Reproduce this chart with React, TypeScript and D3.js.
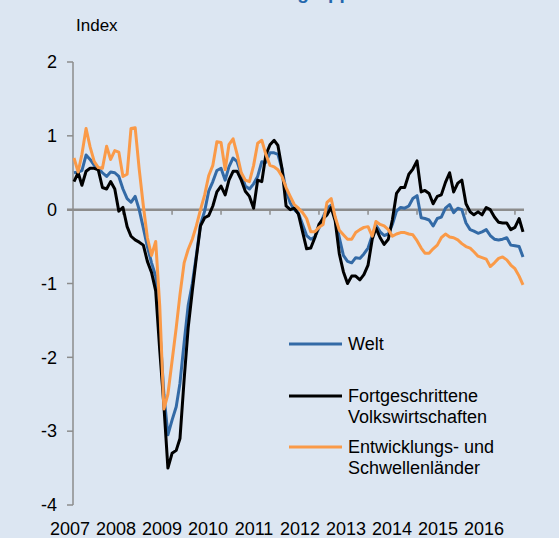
import React from 'react';
import * as d3 from 'd3';

// monthly values, Jan 2007 - Mar 2016
const welt = [
  0.5, 0.51, 0.53, 0.74, 0.68, 0.6, 0.56, 0.5, 0.45, 0.51, 0.5, 0.45,
  0.28, 0.15, 0.1, 0.18, 0.0, -0.25, -0.5, -0.72, -0.9, -1.6, -2.5, -3.05,
  -2.85, -2.67, -2.35, -1.8, -1.3, -1.0, -0.62, -0.2, -0.02, 0.25, 0.38, 0.53,
  0.56, 0.4, 0.58, 0.7, 0.65, 0.48, 0.32, 0.28, 0.35, 0.45, 0.65, 0.64,
  0.77, 0.77, 0.75, 0.55, 0.26, 0.09, 0.0, -0.05, -0.2, -0.35, -0.4, -0.37,
  -0.25, -0.1, 0.02, 0.06, -0.12, -0.38, -0.62, -0.7, -0.72, -0.65, -0.66, -0.6,
  -0.52, -0.35, -0.21, -0.3, -0.35, -0.33, -0.2, -0.02, 0.03, 0.02, 0.05, 0.15,
  0.19, -0.11, -0.12, -0.14, -0.22, -0.12, -0.1, 0.02, 0.07, -0.04, 0.02, 0.0,
  -0.18, -0.27, -0.29, -0.32, -0.3, -0.27, -0.35, -0.4, -0.41, -0.4, -0.38, -0.48,
  -0.49, -0.5, -0.64,
];

const fortgeschrittene = [
  0.38, 0.5, 0.33, 0.52, 0.56, 0.56, 0.54, 0.3, 0.28, 0.38, 0.28, -0.02,
  0.03, -0.23, -0.36, -0.41, -0.44, -0.48, -0.7, -0.85, -1.1, -1.9, -2.65, -3.5,
  -3.3, -3.26, -3.1, -2.3, -1.6, -1.1, -0.65, -0.22, -0.11, -0.08, 0.05, 0.24,
  0.32, 0.2, 0.4, 0.52, 0.52, 0.4, 0.25, 0.18, 0.02, 0.4, 0.38, 0.74,
  0.88, 0.94, 0.87, 0.55, 0.05, 0.0, 0.02, -0.06, -0.3, -0.53, -0.52, -0.38,
  -0.2, -0.12, -0.07, 0.03, -0.15, -0.6, -0.84, -1.0, -0.9, -0.9, -0.95, -0.88,
  -0.75, -0.4, -0.25, -0.38, -0.47, -0.4, -0.14, 0.22, 0.3, 0.3, 0.48, 0.55,
  0.66, 0.24, 0.26, 0.22, 0.08, 0.18, 0.2, 0.37, 0.5, 0.24, 0.36, 0.4,
  0.08, -0.03, -0.07, -0.03, -0.07, 0.03, 0.0, -0.1, -0.17, -0.18, -0.18, -0.27,
  -0.24, -0.12, -0.3,
];

const entwicklung = [
  0.7, 0.51, 0.75, 1.1, 0.85, 0.65, 0.57, 0.56, 0.86, 0.68, 0.8, 0.78,
  0.45, 0.48, 1.1, 1.11, 0.55, 0.05, -0.38, -0.62, -0.43, -1.3, -2.7, -2.5,
  -2.05, -1.6, -1.15, -0.72, -0.54, -0.4, -0.22, 0.0, 0.2, 0.46, 0.6, 0.92,
  0.91, 0.54, 0.88, 0.96, 0.75, 0.5, 0.4, 0.38, 0.6, 0.9, 0.94, 0.75,
  0.6, 0.58, 0.54, 0.45, 0.3, 0.18, 0.07, 0.02, -0.04, -0.12, -0.3, -0.3,
  -0.24, -0.2, 0.1, 0.15, -0.1, -0.28, -0.34, -0.4, -0.4, -0.31, -0.27, -0.24,
  -0.23, -0.36, -0.16, -0.2, -0.22, -0.27, -0.36, -0.33, -0.31, -0.31, -0.33, -0.34,
  -0.42, -0.52, -0.59, -0.59, -0.53, -0.48, -0.38, -0.33, -0.37, -0.38, -0.41, -0.46,
  -0.5, -0.52, -0.57, -0.63, -0.65, -0.67, -0.77, -0.72, -0.66, -0.64, -0.68, -0.75,
  -0.8, -0.9, -1.02,
];

const years = ['2007', '2008', '2009', '2010', '2011', '2012', '2013', '2014', '2015', '2016'];
const yTicks = [2, 1, 0, -1, -2, -3, -4];

const W = 559;
const H = 538;
const font = 'Arial, "Liberation Sans", sans-serif';

export default function App() {
  const months = welt.map((_, i) => new Date(2007, i, 1));
  const x = d3.scaleTime()
    .domain([months[0], months[months.length - 1]])
    .range([74, 523]);
  const y = d3.scaleLinear().domain([-4, 2]).range([505, 62]);
  const labelX = d3.scalePoint().domain(years).range([70, 484]);
  const yearTicks = d3.timeYear.range(new Date(2008, 0, 1), new Date(2016, 1, 1));

  const line = d3.line<number>()
    .x((_, i) => x(months[i]))
    .y(d => y(d));

  const series = [
    { name: 'Welt', values: welt, color: '#336aa6' },
    { name: 'Fortgeschrittene', values: fortgeschrittene, color: '#000000' },
    { name: 'Entwicklung', values: entwicklung, color: '#fa9a48' },
  ];

  const axisColor = '#8c8c8c';

  return (
    <svg width={W} height={H} style={{ position: 'absolute', left: 0, top: 0 }} fontFamily={font}>
      <rect width={W} height={H} fill="#dce6f2" />
      <text x={234} y={-1} fontSize={19} fontWeight="bold" fill="#2366ad">Ländergruppen</text>
      <text x={76} y={31} fontSize={17} fill="#000">Index</text>

      {/* y axis */}
      <line x1={73} x2={73} y1={y(2)} y2={y(-4)} stroke={axisColor} strokeWidth={1.5} />
      {yTicks.map(t => (
        <g key={t}>
          <line x1={67} x2={73} y1={y(t)} y2={y(t)} stroke={axisColor} strokeWidth={1.5} />
          <text x={57} y={y(t)} dy="0.35em" textAnchor="end" fontSize={18} fill="#000">{t}</text>
        </g>
      ))}

      {/* zero line with year ticks */}
      <line x1={67} x2={524} y1={y(0)} y2={y(0)} stroke={axisColor} strokeWidth={2.5} />
      {yearTicks.map(d => (
        <line key={d.getFullYear()} x1={x(d)} x2={x(d)} y1={y(0)} y2={y(0) + 5} stroke={axisColor} strokeWidth={1.5} />
      ))}

      {series.map(s => (
        <path key={s.name} d={line(s.values) ?? ''} fill="none" stroke={s.color}
          strokeWidth={3} strokeLinejoin="round" />
      ))}

      {years.map(yr => (
        <text key={yr} x={labelX(yr)} y={535} textAnchor="middle" fontSize={18} fill="#000">{yr}</text>
      ))}

      {/* legend */}
      <line x1={289} x2={342} y1={344} y2={344} stroke="#336aa6" strokeWidth={3} />
      <text x={348} y={350} fontSize={18} fill="#000">Welt</text>
      <line x1={289} x2={342} y1={396} y2={396} stroke="#000" strokeWidth={3} />
      <text x={348} y={402} fontSize={18} fill="#000">Fortgeschrittene</text>
      <text x={348} y={423} fontSize={18} fill="#000">Volkswirtschaften</text>
      <line x1={289} x2={342} y1={447} y2={447} stroke="#fa9a48" strokeWidth={3} />
      <text x={348} y={453} fontSize={18} fill="#000">Entwicklungs- und</text>
      <text x={348} y={474} fontSize={18} fill="#000">Schwellenländer</text>
    </svg>
  );
}
